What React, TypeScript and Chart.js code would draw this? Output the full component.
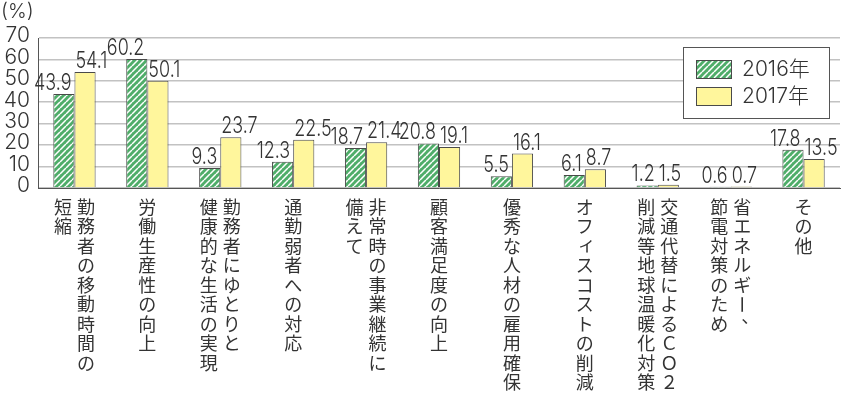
import React, { useEffect, useRef } from "react";
import { Chart, registerables } from "chart.js";

Chart.register(...registerables);

// ---- data ----
const categoryColumns: string[][] = [
  ["勤務者の移動時間の", "短縮"],
  ["労働生産性の向上"],
  ["勤務者にゆとりと", "健康的な生活の実現"],
  ["通勤弱者への対応"],
  ["非常時の事業継続に", "備えて"],
  ["顧客満足度の向上"],
  ["優秀な人材の雇用確保"],
  ["オフィスコストの削減"],
  ["交通代替によるＣＯ２", "削減等地球温暖化対策"],
  ["省エネルギー、", "節電対策のため"],
  ["その他"],
];
const seriesNames = ["2016年", "2017年"];
const values2016 = [43.9, 60.2, 9.3, 12.3, 18.7, 20.8, 5.5, 6.1, 1.2, 0.6, 17.8];
const values2017 = [54.1, 50.1, 23.7, 22.5, 21.4, 19.1, 16.1, 8.7, 1.5, 0.7, 13.5];
const yMin = 0;
const yMax = 70;
const yStep = 10;
const yUnit = "(%)";

// ---- styles ----
const GREEN = "#4fad69";
const YELLOW = "#fff69c";
const OUTLINE = "#4a4a4a";
const TEXT = "#333333";
const GRID = "#c2c2c2";
const AXIS = "#555555";
const NUM_FONT = "Inter, 'Open Sans', 'Noto Sans CJK JP', sans-serif";
const JP_FONT = "'Noto Sans CJK JP', sans-serif";

function makeHatch(): CanvasPattern | string {
  const c = document.createElement("canvas");
  c.width = 6;
  c.height = 6;
  const g = c.getContext("2d");
  if (!g) return GREEN;
  g.fillStyle = GREEN;
  g.fillRect(0, 0, 6, 6);
  g.strokeStyle = "#ffffff";
  g.lineWidth = 1.5;
  g.beginPath();
  for (const o of [-6, 0, 6]) {
    g.moveTo(o, 6);
    g.lineTo(o + 6, 0);
  }
  g.stroke();
  return g.createPattern(c, "repeat") || GREEN;
}

export default function App() {
  const ref = useRef<HTMLCanvasElement>(null);

  useEffect(() => {
    const canvas = ref.current;
    if (!canvas) return;
    const hatch = makeHatch();

    const valueLabels = {
      id: "valueLabels",
      afterDatasetsDraw(chart: any) {
        const ctx = chart.ctx as CanvasRenderingContext2D;
        const m0 = chart.getDatasetMeta(0);
        const m1 = chart.getDatasetMeta(1);
        ctx.save();
        ctx.fillStyle = TEXT;
        ctx.font = `300 23px ${NUM_FONT}`;
        ctx.textBaseline = "alphabetic";
        m0.data.forEach((bar: any, i: number) => {
          const bar1 = m1.data[i];
          const boundary = (bar.x + bar1.x) / 2;
          const draw = (txt: string, x: number, y: number, align: CanvasTextAlign) => {
            ctx.save();
            ctx.translate(x, y);
            ctx.scale(0.78, 1);
            ctx.textAlign = align;
            ctx.fillText(txt, 0, 0);
            ctx.restore();
          };
          draw(values2016[i].toFixed(1), boundary - 3, bar.y - 4, "right");
          draw(values2017[i].toFixed(1), boundary + 1, bar1.y - 4, "left");
        });
        ctx.restore();
      },
    };

    const verticalLabels = {
      id: "verticalLabels",
      afterDraw(chart: any) {
        const ctx = chart.ctx as CanvasRenderingContext2D;
        const xs = chart.scales.x;
        const top = chart.chartArea.bottom + 19;
        const size = 18;
        const adv = 19.5;
        const colGap = 23;
        ctx.save();
        ctx.fillStyle = TEXT;
        ctx.font = `${size}px ${JP_FONT}`;
        ctx.textAlign = "center";
        ctx.textBaseline = "middle";
        categoryColumns.forEach((cols, i) => {
          const cx = xs.getPixelForValue(i);
          const n = cols.length;
          cols.forEach((col, j) => {
            const x = cx + ((n - 1) / 2 - j) * colGap;
            Array.from(col).forEach((ch, k) => {
              const y = top + k * adv;
              if (ch === "ー") {
                ctx.save();
                ctx.translate(x, y);
                ctx.rotate(Math.PI / 2);
                ctx.fillText(ch, 0, 0);
                ctx.restore();
              } else if (ch === "、") {
                ctx.fillText(ch, x + size * 0.45, y - size * 0.45);
              } else if (ch === "ィ") {
                ctx.fillText(ch, x + 2, y - 2);
              } else {
                ctx.fillText(ch, x, y);
              }
            });
          });
        });
        ctx.restore();
      },
    };

    const legendBox = {
      id: "legendBox",
      afterDraw(chart: any) {
        const ctx = chart.ctx as CanvasRenderingContext2D;
        const area = chart.chartArea;
        const w = 146;
        const h = 71;
        const bx = area.right - 11 - w;
        const by = area.top + 9;
        ctx.save();
        ctx.fillStyle = "#ffffff";
        ctx.fillRect(bx, by, w, h);
        ctx.strokeStyle = AXIS;
        ctx.lineWidth = 1;
        ctx.strokeRect(bx + 0.5, by + 0.5, w, h);
        const fills = [hatch, YELLOW];
        seriesNames.forEach((name, i) => {
          const sy = by + 13 + i * 27;
          ctx.fillStyle = fills[i] as any;
          ctx.fillRect(bx + 13, sy, 36, 19);
          ctx.strokeStyle = OUTLINE;
          ctx.strokeRect(bx + 13.5, sy + 0.5, 35, 18);
          ctx.fillStyle = TEXT;
          ctx.font = `300 21px ${NUM_FONT}`;
          ctx.textAlign = "left";
          ctx.textBaseline = "middle";
          ctx.fillText(name, bx + 59, sy + 10);
        });
        ctx.restore();
      },
    };

    const unitLabel = {
      id: "unitLabel",
      afterDraw(chart: any) {
        const ctx = chart.ctx as CanvasRenderingContext2D;
        ctx.save();
        ctx.fillStyle = TEXT;
        ctx.font = `300 20px ${NUM_FONT}`;
        ctx.textAlign = "left";
        ctx.textBaseline = "middle";
        ctx.fillText(yUnit, 1, 12);
        ctx.restore();
      },
    };

    const chart = new Chart(canvas, {
      type: "bar",
      data: {
        labels: categoryColumns.map((c) => c.join("")),
        datasets: [
          {
            label: seriesNames[0],
            data: values2016,
            backgroundColor: hatch as any,
            borderColor: OUTLINE,
            borderWidth: 1,
            categoryPercentage: 0.58,
            barPercentage: 1.0,
          },
          {
            label: seriesNames[1],
            data: values2017,
            backgroundColor: YELLOW,
            borderColor: OUTLINE,
            borderWidth: 1,
            categoryPercentage: 0.58,
            barPercentage: 1.0,
          },
        ],
      },
      options: {
        responsive: false,
        animation: false,
        layout: { padding: { top: 38, right: 2, left: 0, bottom: 0 } },
        plugins: {
          legend: { display: false },
          tooltip: { enabled: false },
        },
        scales: {
          x: {
            grid: { display: false, drawTicks: false },
            border: { display: true, color: AXIS, width: 1 },
            ticks: { display: false },
            afterFit: (s: any) => {
              s.height = 210;
            },
          },
          y: {
            min: yMin,
            max: yMax,
            ticks: {
              stepSize: yStep,
              autoSkip: false,
              padding: 8,
              color: TEXT,
              labelOffset: -2,
              font: { family: NUM_FONT, size: 21, weight: "300" as any },
            },
            grid: { color: GRID, lineWidth: 1.6, drawTicks: false },
            border: { display: true, color: AXIS, width: 1 },
            afterFit: (s: any) => {
              s.width = 38;
            },
          },
        },
      },
      plugins: [valueLabels, verticalLabels, legendBox, unitLabel],
    });

    return () => chart.destroy();
  }, []);

  return (
    <div
      style={{
        position: "fixed",
        left: 0,
        top: 0,
        width: 842,
        height: 398,
        background: "#ffffff",
      }}
    >
      <canvas ref={ref} width={842} height={398} style={{ display: "block", width: 842, height: 398 }} />
    </div>
  );
}
